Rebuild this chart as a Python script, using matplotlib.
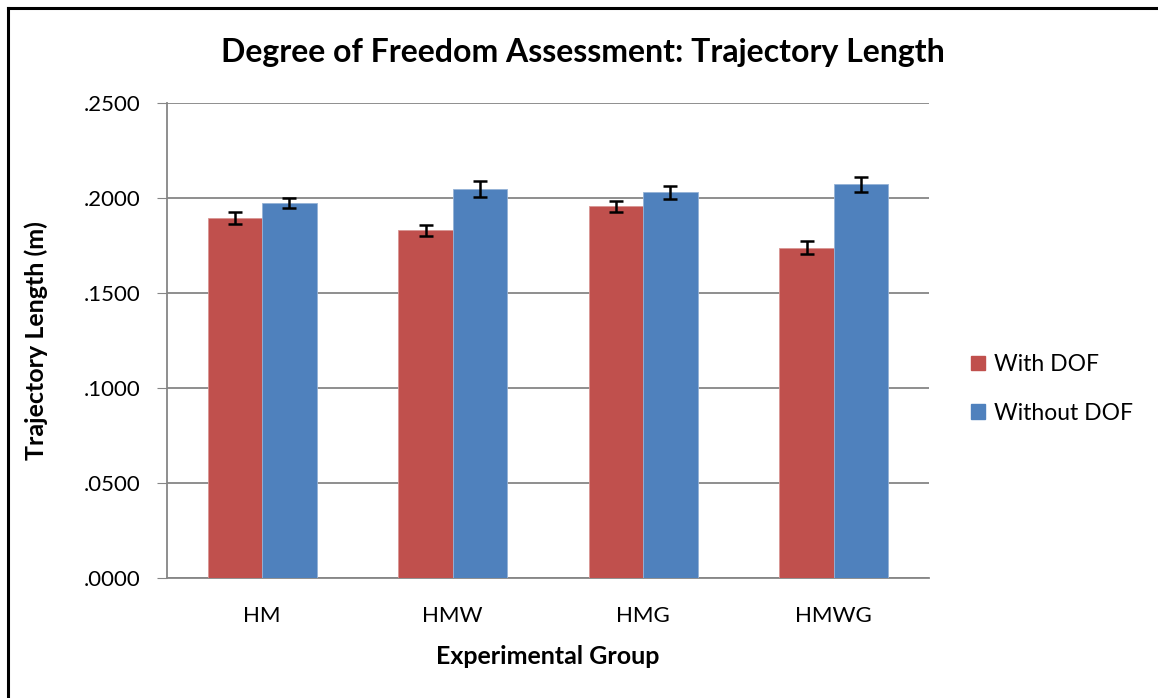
import numpy as np
import matplotlib
matplotlib.use("Agg")
import matplotlib.pyplot as plt
from matplotlib.patches import Patch

plt.rcParams['font.family'] = ['Lato', 'DejaVu Sans']

# data
groups = ['HM', 'HMW', 'HMG', 'HMWG']
with_dof = [0.1893, 0.1830, 0.1956, 0.1739]
without_dof = [0.1975, 0.2047, 0.2030, 0.2072]
with_err = [0.0032, 0.0030, 0.0027, 0.0033]
without_err = [0.0025, 0.0044, 0.0034, 0.0038]
yticks = [0.0, 0.05, 0.10, 0.15, 0.20, 0.25]
ylabels = ['.0000', '.0500', '.1000', '.1500', '.2000', '.2500']

red = '#C0504D'
blue = '#4F81BD'

fig = plt.figure(figsize=(11.58, 6.98), dpi=100)
ax = fig.add_axes([0.1442, 0.1719, 0.658, 0.6805])

x = np.arange(len(groups))
w = 0.285
ax.bar(x - w/2, with_dof, w, color=red, edgecolor='#D99694', linewidth=0.6,
       yerr=with_err, capsize=5, error_kw=dict(elinewidth=1.8, capthick=1.8, ecolor='black'),
       zorder=3)
ax.bar(x + w/2, without_dof, w, color=blue, edgecolor='#95B3D7', linewidth=0.6,
       yerr=without_err, capsize=5, error_kw=dict(elinewidth=1.8, capthick=1.8, ecolor='black'),
       zorder=3)

ax.set_xlim(-0.5, len(groups) - 0.5)
ax.set_ylim(0, 0.25)
ax.set_yticks(yticks)
ax.set_yticklabels(ylabels, fontsize=16)
ax.set_xticks(x)
ax.set_xticklabels(groups, fontsize=16)
ax.tick_params(axis='y', length=7, color='#868686', pad=12)
ax.tick_params(axis='x', length=0, pad=20)
ax.grid(axis='y', color='#868686', linewidth=1.3, zorder=0)
for s in ['top', 'right']:
    ax.spines[s].set_visible(False)
ax.spines['left'].set_color('#868686')
ax.spines['bottom'].set_color('#868686')
ax.spines['left'].set_linewidth(1.3)
ax.spines['bottom'].set_linewidth(1.3)

ax.set_ylabel('Trajectory Length (m)', fontsize=18, fontweight='bold', labelpad=26)
ax.set_xlabel('Experimental Group', fontsize=18, fontweight='bold', labelpad=14)
fig.text(0.503, 0.925, 'Degree of Freedom Assessment: Trajectory Length',
         ha='center', va='center', fontsize=23, fontweight='bold')

handles = [Patch(color=red), Patch(color=blue)]
fig.legend(handles, ['With DOF', 'Without DOF'], loc='center left',
           bbox_to_anchor=(0.821, 0.443), frameon=False, fontsize=16.5,
           handlelength=0.6, handleheight=0.6, handletextpad=0.4, labelspacing=1.2)

# chart border (only top and left edges visible)
fig.add_artist(plt.Line2D([0.007, 0.007], [0, 0.988], color='black', linewidth=2.2,
                          transform=fig.transFigure))
fig.add_artist(plt.Line2D([0.007, 1], [0.988, 0.988], color='black', linewidth=2.2,
                          transform=fig.transFigure))

fig.savefig('out.png', dpi=100, facecolor='white')
